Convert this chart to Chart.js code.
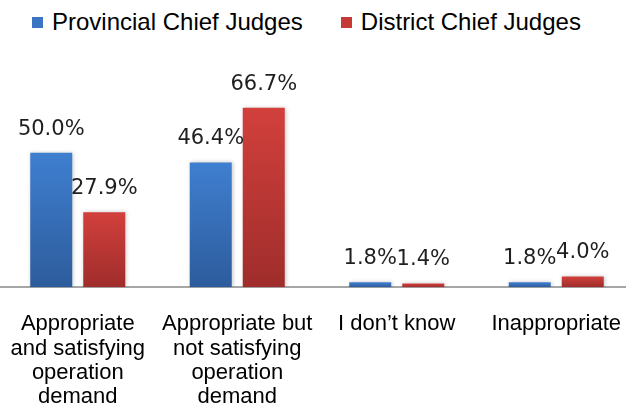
<!DOCTYPE html>
<html>
<head>
<meta charset="utf-8">
<script src="https://cdn.jsdelivr.net/npm/chart.js@4/dist/chart.umd.min.js"></script>
<style>
  html, body { margin: 0; padding: 0; background: #fff; overflow: hidden; }
  body { width: 626px; height: 407px; position: relative; }
  #chart { position: absolute; left: -2px; top: 0; }
  #legend {
    position: absolute; left: 32px; top: 10px;
    display: flex; align-items: center;
    font-family: "Liberation Sans", Arial, sans-serif; font-size: 24px; line-height: 24px; color: #000;
  }
  #legend .item { display: flex; align-items: center; margin-right: 38px; }
  #legend .box { width: 11px; height: 11px; margin-right: 9px; }
</style>
</head>
<body>
<div id="legend"></div>
<canvas id="chart" width="640" height="409"></canvas>
<script>
const categories = [
  ["Appropriate", "and satisfying", "operation", "demand"],
  ["Appropriate but", "not satisfying", "operation", "demand"],
  "I don\u2019t know",
  "Inappropriate"
];
const seriesNames = ["Provincial Chief Judges", "District Chief Judges"];
const provincialValues = [50.0, 46.4, 1.8, 1.8];
const districtValues = [27.9, 66.7, 1.4, 4.0];

const palette = [
  { solid: "#3C74C4", top: "#3F7FD0", bottom: "#2D5C9C" },
  { solid: "#C63A36", top: "#D2403C", bottom: "#9F2D2B" }
];

function barGradient(index) {
  return (ctx) => {
    const colors = palette[index];
    const chart = ctx.chart;
    if (!chart.chartArea || !ctx.parsed || !chart.scales.y) return colors.solid;
    const y = chart.scales.y;
    const top = y.getPixelForValue(ctx.parsed.y);
    const bottom = y.getPixelForValue(0);
    if (!isFinite(top) || bottom - top < 1) return colors.solid;
    const g = chart.ctx.createLinearGradient(0, top, 0, bottom);
    g.addColorStop(0, colors.top);
    g.addColorStop(1, colors.bottom);
    return g;
  };
}

const valueLabels = {
  id: "valueLabels",
  afterDatasetsDraw(chart) {
    const ctx = chart.ctx;
    ctx.save();
    ctx.font = "21px 'DejaVu Sans', Verdana, sans-serif";
    ctx.fillStyle = "#1f1f1f";
    ctx.textAlign = "center";
    ctx.textBaseline = "alphabetic";
    chart.data.datasets.forEach((ds, i) => {
      chart.getDatasetMeta(i).data.forEach((bar, j) => {
        ctx.fillText(ds.data[j].toFixed(1) + "%", bar.x, bar.y - 18);
      });
    });
    ctx.restore();
  }
};

const barShadow = {
  id: "barShadow",
  beforeDatasetsDraw(chart) {
    const ctx = chart.ctx;
    ctx.save();
    ctx.shadowColor = "rgba(0,0,0,0.22)";
    ctx.shadowBlur = 4;
    ctx.shadowOffsetX = 1;
    ctx.shadowOffsetY = 0;
  },
  afterDatasetsDraw(chart) {
    chart.ctx.restore();
  }
};

const legendEl = document.getElementById("legend");
seriesNames.forEach((name, i) => {
  const item = document.createElement("div");
  item.className = "item";
  const box = document.createElement("span");
  box.className = "box";
  box.style.background = palette[i].solid;
  const text = document.createElement("span");
  text.textContent = name;
  item.appendChild(box);
  item.appendChild(text);
  legendEl.appendChild(item);
});

new Chart(document.getElementById("chart"), {
  type: "bar",
  data: {
    labels: categories,
    datasets: [
      {
        label: seriesNames[0],
        data: provincialValues,
        backgroundColor: barGradient(0),
        barPercentage: 0.792,
        categoryPercentage: 0.665
      },
      {
        label: seriesNames[1],
        data: districtValues,
        backgroundColor: barGradient(1),
        barPercentage: 0.792,
        categoryPercentage: 0.665
      }
    ]
  },
  options: {
    responsive: false,
    animation: false,
    layout: { padding: { top: 99, right: 2, bottom: 0, left: 0 } },
    plugins: {
      legend: { display: false },
      tooltip: { enabled: false }
    },
    scales: {
      x: {
        grid: {
          display: true,
          drawOnChartArea: false,
          drawTicks: true,
          tickLength: 25,
          color: "rgba(0,0,0,0)"
        },
        border: { display: true, color: "#a6a6a6", width: 2 },
        ticks: {
          color: "#000",
          padding: 0,
          maxRotation: 0,
          autoSkip: false,
          font: { family: "'Liberation Sans', Arial, sans-serif", size: 22, lineHeight: 1.1 }
        }
      },
      y: {
        display: false,
        min: 0,
        max: 70
      }
    }
  },
  plugins: [barShadow, valueLabels]
});
</script>
</body>
</html>
